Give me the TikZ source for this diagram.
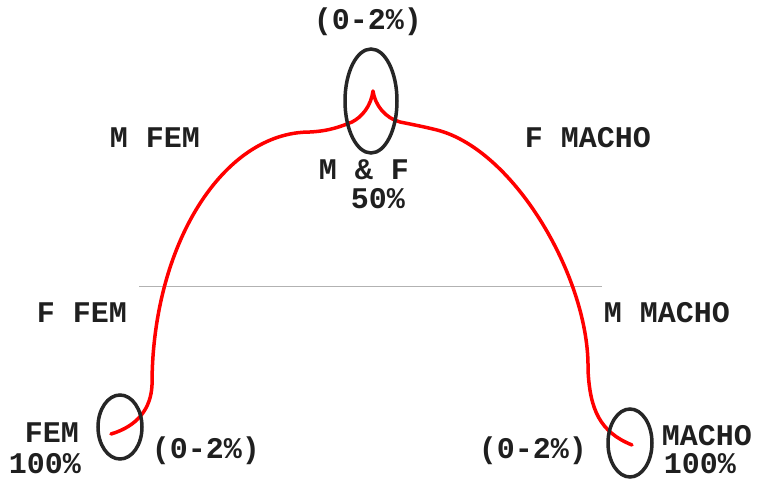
\documentclass[tikz,border=0pt]{standalone}
\usepackage{fontspec}
\setmainfont{Liberation Mono}[BoldFont={Liberation Mono Bold}]
\usetikzlibrary{shapes.geometric}
\begin{document}
\begin{tikzpicture}[x=1pt,y=-1pt,
  lbl/.style={inner sep=0pt,font=\fontsize{30}{30}\selectfont\bfseries,text=black!88},
  ring/.style={draw=black!85,line width=3.5pt,ellipse,inner sep=0pt},
  curve/.style={draw=red,line width=3.5pt,line cap=round,line join=round}]
\useasboundingbox (0,0) rectangle (764,481);
% gray baseline
\coordinate (gl) at (139,286);
\coordinate (gr) at (602,286);
\draw[black!30,line width=0.8pt] (gl) -- (gr);
% red curve
\coordinate (s) at (111,434);
\coordinate (cusp) at (373,91);
\coordinate (e) at (632,445);
\draw[curve] (s) .. controls (138,426) and (151,408) .. (152,385)
  .. controls (152,245) and (223,132) .. (310,132)
  .. controls (330,131) and (342,126) .. (352,122)
  .. controls (362,117) and (371,106) .. (cusp)
  .. controls (375,105) and (385,118) .. (400,122)
  .. controls (415,125) and (425,127) .. (437,130)
  .. controls (515,150) and (590,280) .. (588,370)
  .. controls (590,410) and (600,432) .. (e);
% ellipses
\node[ring,minimum width=52,minimum height=104] (top) at (371,101) {};
\node[ring,minimum width=44,minimum height=64] (fl) at (120,427) {};
\node[ring,minimum width=44,minimum height=68] (fr) at (630,443) {};
% labels
\node[lbl] (t02) at (368,22) {(0-2\%)};
\node[lbl] (mfem) at (155,138) {M FEM};
\node[lbl] (fmacho) at (588,138) {F MACHO};
\node[lbl] (mf) at (364,170) {M \& F};
\node[lbl] (p50) at (378,199) {50\%};
\node[lbl] (ffem) at (82,313) {F FEM};
\node[lbl] (mmacho) at (667,313) {M MACHO};
\node[lbl] (fem) at (52,433) {FEM};
\node[lbl] (p100l) at (45,464) {100\%};
\node[lbl] (l02) at (206,451) {(0-2\%)};
\node[lbl] (r02) at (533,451) {(0-2\%)};
\node[lbl] (macho) at (707,436) {MACHO};
\node[lbl] (p100r) at (700,464) {100\%};
\end{tikzpicture}
\end{document}
